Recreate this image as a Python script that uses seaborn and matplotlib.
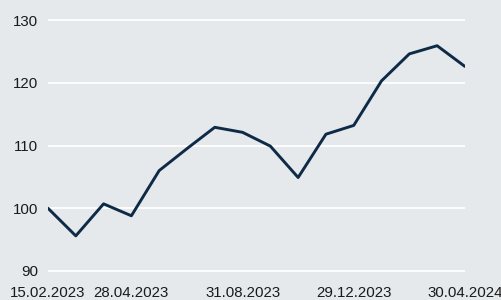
import numpy as np
import pandas as pd
import matplotlib
matplotlib.use('Agg')
import matplotlib.pyplot as plt
import seaborn as sns

values = [100.0, 95.6, 100.7, 98.8, 106.0, 109.5, 112.9, 112.1, 109.9,
          104.9, 111.8, 113.2, 120.3, 124.6, 125.9, 122.6]
tick_pos = [0, 3, 7, 11, 15]
tick_labels = ['15.02.2023', '28.04.2023', '31.08.2023', '29.12.2023', '30.04.2024']
y_ticks = [90, 100, 110, 120, 130]

df = pd.DataFrame({'step': np.arange(len(values)), 'value': values})

bg = '#e5e9ec'
navy = '#0e2a47'

sns.set_style('white')
plt.rcParams['font.family'] = ['Liberation Sans', 'DejaVu Sans']

fig = plt.figure(figsize=(5.02, 3.0), dpi=100, facecolor=bg)
ax = fig.add_axes([0.0956, 0.0925, 0.8305, 0.845])
ax.set_facecolor(bg)

sns.lineplot(data=df, x='step', y='value', color=navy, linewidth=2.1, ax=ax)

ax.set_xlim(0, len(values) - 1)
ax.set_ylim(89.8, 130.2)
ax.set_yticks(y_ticks)
ax.set_xticks(tick_pos)
ax.set_xticklabels(tick_labels)
ax.yaxis.grid(True, color='white', linewidth=1.3)
ax.set_axisbelow(True)
ax.xaxis.grid(False)
for s in ax.spines.values():
    s.set_visible(False)
ax.tick_params(axis='both', length=0, labelsize=10.8, colors='#1a1a1a')
ax.tick_params(axis='y', pad=7)
ax.tick_params(axis='x', pad=10)
ax.set_xlabel('')
ax.set_ylabel('')

fig.savefig('out.png', dpi=100, facecolor=bg)
